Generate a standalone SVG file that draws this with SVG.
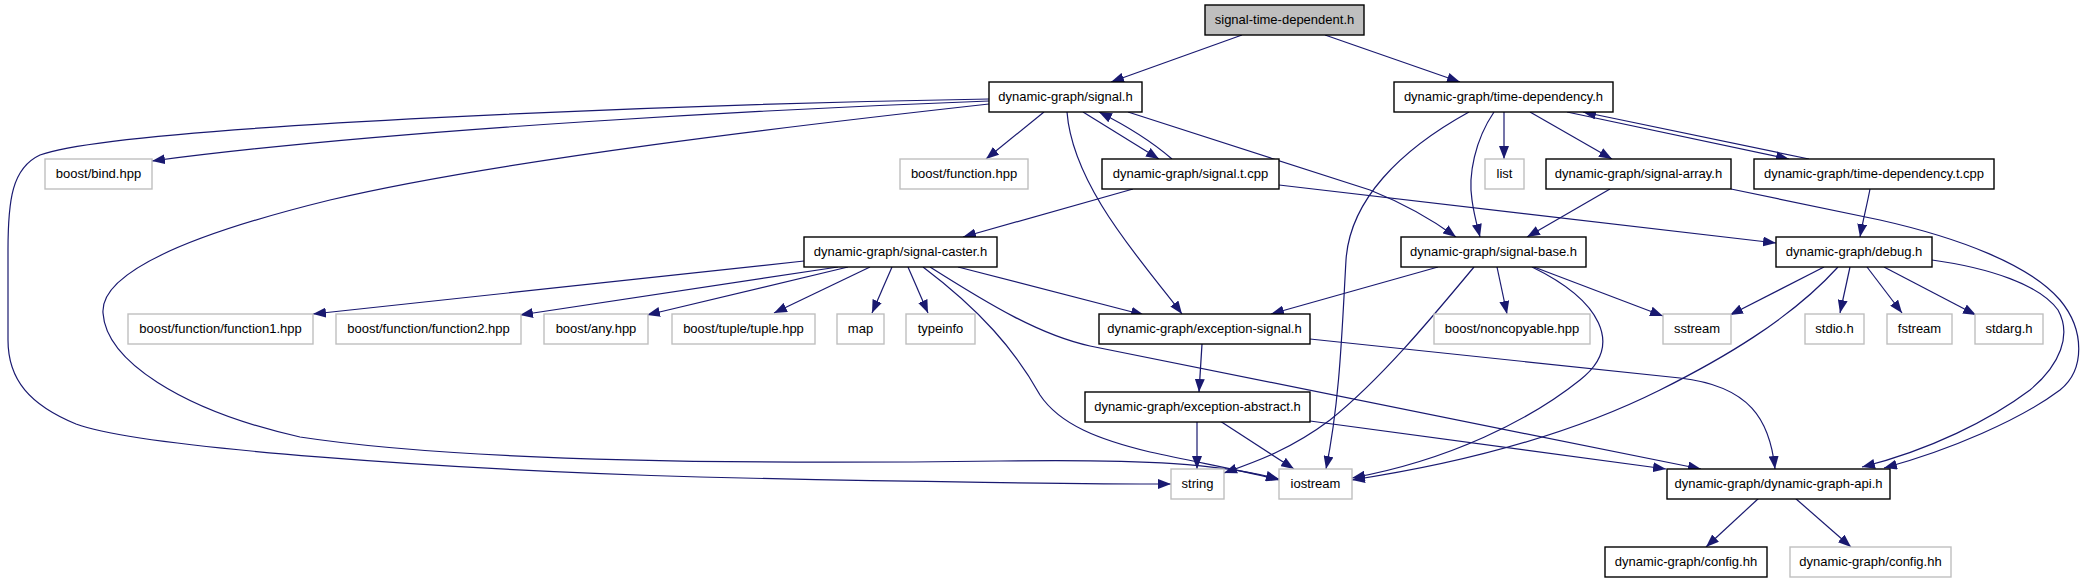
<svg xmlns="http://www.w3.org/2000/svg" width="2081" height="581" viewBox="0 0 2081 581">
<style>
.n rect{fill:#fff;stroke:#000;stroke-width:1.4}
.g rect{fill:#fff;stroke:#bfbfbf;stroke-width:1.4}
.root rect{fill:#bfbfbf;stroke:#000;stroke-width:1.4}
text{font-family:"Liberation Sans",Arial,sans-serif;font-size:13px;fill:#000;text-anchor:middle}
#edges path{fill:none;stroke:#191970;stroke-width:1.2;marker-end:url(#arr)}
</style>
<defs>
<marker id="arr" markerUnits="userSpaceOnUse" viewBox="0 0 13 10" refX="13" refY="5" markerWidth="13" markerHeight="10" orient="auto">
<path d="M0,0 L13,5 L0,10 z" fill="#191970"/>
</marker>
</defs>
<rect width="2081" height="581" fill="#fff"/>
<g id="edges">
<path d="M1242,35 L1111,82"/>
<path d="M1325,35 L1460,82"/>
<path d="M989,101 C800,108 400,128 152,161"/>
<path d="M989,99 C700,104 120,125 40,155 C12,168 8,200 8,250 L8,340 C8,380 30,405 76,424 C140,448 450,470 700,477 C900,482 1100,484 1171,484"/>
<path d="M989,104 C800,125 500,160 330,200 C200,232 100,270 103,313 C106,360 180,410 300,437 C450,460 700,465 1000,461 C1150,459 1220,464 1279,479"/>
<path d="M1044,112 L986,159"/>
<path d="M1083,112 L1159,159"/>
<path d="M1172,159 C1150,140 1125,125 1099,112"/>
<path d="M1128,112 L1370,190 C1400,202 1430,218 1456,237"/>
<path d="M1067,112 C1073,190 1150,270 1182,314"/>
<path d="M1133,189 L963,237"/>
<path d="M1279,185 L1776,243"/>
<path d="M1504,112 L1504,159"/>
<path d="M1530,112 L1612,159"/>
<path d="M1567,112 L1789,159"/>
<path d="M1809,159 L1583,112"/>
<path d="M1469,112 C1400,150 1350,200 1346,260 C1342,330 1340,400 1326,469"/>
<path d="M1494,112 C1475,140 1468,175 1472,200 C1474,215 1477,225 1480,237"/>
<path d="M1610,189 L1527,237"/>
<path d="M1731,189 L1880,220 C1960,238 2030,265 2060,300 C2085,330 2085,370 2060,390 C2020,420 1950,450 1884,468"/>
<path d="M1870,189 C1867,205 1863,220 1860,237"/>
<path d="M804,261 L313,314"/>
<path d="M838,267 L520,315"/>
<path d="M848,267 L647,315"/>
<path d="M870,267 L774,313"/>
<path d="M892,267 L872,313"/>
<path d="M908,267 L928,313"/>
<path d="M958,267 L1144,315"/>
<path d="M923,267 C980,310 1015,350 1040,395 C1060,425 1100,440 1150,452 C1200,463 1250,472 1279,480"/>
<path d="M930,267 C990,305 1040,335 1090,346 L1701,469"/>
<path d="M1438,267 L1271,314"/>
<path d="M1497,267 L1507,314"/>
<path d="M1534,267 L1663,316"/>
<path d="M1474,267 C1430,320 1380,380 1330,420 C1290,450 1255,462 1224,473"/>
<path d="M1532,267 C1600,300 1625,345 1580,380 C1530,420 1450,460 1352,478"/>
<path d="M1824,267 L1730,315"/>
<path d="M1850,267 L1840,313"/>
<path d="M1867,267 L1902,313"/>
<path d="M1884,267 L1976,315"/>
<path d="M1838,267 C1790,320 1720,360 1660,390 C1560,440 1450,465 1352,480"/>
<path d="M1932,260 C1990,268 2040,285 2058,310 C2072,335 2060,365 2030,390 C1990,420 1930,450 1862,467"/>
<path d="M1202,344 L1199,392"/>
<path d="M1310,339 L1680,378 C1750,386 1770,420 1775,469"/>
<path d="M1197,421 L1197,469"/>
<path d="M1220,421 L1294,469"/>
<path d="M1310,421 L1666,469"/>
<path d="M1759,498 L1706,547"/>
<path d="M1795,498 L1851,547"/>
</g>
<g id="n0" class="root"><rect x="1205" y="5" width="159" height="30"/><text x="1284.5" y="23.5">signal-time-dependent.h</text></g>
<g id="n1" class="n"><rect x="989" y="82" width="153" height="30"/><text x="1065.5" y="100.5">dynamic-graph/signal.h</text></g>
<g id="n2" class="n"><rect x="1394" y="82" width="219" height="30"/><text x="1503.5" y="100.5">dynamic-graph/time-dependency.h</text></g>
<g id="n3" class="g"><rect x="45" y="159" width="107" height="30"/><text x="98.5" y="177.5">boost/bind.hpp</text></g>
<g id="n4" class="g"><rect x="900" y="159" width="128" height="30"/><text x="964" y="177.5">boost/function.hpp</text></g>
<g id="n5" class="n"><rect x="1102" y="159" width="177" height="30"/><text x="1190.5" y="177.5">dynamic-graph/signal.t.cpp</text></g>
<g id="n6" class="g"><rect x="1485" y="159" width="39" height="30"/><text x="1504.5" y="177.5">list</text></g>
<g id="n7" class="n"><rect x="1546" y="159" width="185" height="30"/><text x="1638.5" y="177.5">dynamic-graph/signal-array.h</text></g>
<g id="n8" class="n"><rect x="1754" y="159" width="240" height="30"/><text x="1874" y="177.5">dynamic-graph/time-dependency.t.cpp</text></g>
<g id="n9" class="n"><rect x="804" y="237" width="193" height="30"/><text x="900.5" y="255.5">dynamic-graph/signal-caster.h</text></g>
<g id="n10" class="n"><rect x="1401" y="237" width="185" height="30"/><text x="1493.5" y="255.5">dynamic-graph/signal-base.h</text></g>
<g id="n11" class="n"><rect x="1776" y="237" width="156" height="30"/><text x="1854" y="255.5">dynamic-graph/debug.h</text></g>
<g id="n12" class="g"><rect x="128" y="314" width="185" height="30"/><text x="220.5" y="332.5">boost/function/function1.hpp</text></g>
<g id="n13" class="g"><rect x="336" y="314" width="185" height="30"/><text x="428.5" y="332.5">boost/function/function2.hpp</text></g>
<g id="n14" class="g"><rect x="544" y="314" width="104" height="30"/><text x="596" y="332.5">boost/any.hpp</text></g>
<g id="n15" class="g"><rect x="672" y="314" width="143" height="30"/><text x="743.5" y="332.5">boost/tuple/tuple.hpp</text></g>
<g id="n16" class="g"><rect x="837" y="314" width="47" height="30"/><text x="860.5" y="332.5">map</text></g>
<g id="n17" class="g"><rect x="906" y="314" width="69" height="30"/><text x="940.5" y="332.5">typeinfo</text></g>
<g id="n18" class="n"><rect x="1099" y="314" width="211" height="30"/><text x="1204.5" y="332.5">dynamic-graph/exception-signal.h</text></g>
<g id="n19" class="g"><rect x="1434" y="314" width="156" height="30"/><text x="1512" y="332.5">boost/noncopyable.hpp</text></g>
<g id="n20" class="g"><rect x="1663" y="314" width="68" height="30"/><text x="1697" y="332.5">sstream</text></g>
<g id="n21" class="g"><rect x="1805" y="314" width="59" height="30"/><text x="1834.5" y="332.5">stdio.h</text></g>
<g id="n22" class="g"><rect x="1887" y="314" width="65" height="30"/><text x="1919.5" y="332.5">fstream</text></g>
<g id="n23" class="g"><rect x="1975" y="314" width="68" height="30"/><text x="2009" y="332.5">stdarg.h</text></g>
<g id="n24" class="n"><rect x="1085" y="392" width="225" height="30"/><text x="1197.5" y="410.5">dynamic-graph/exception-abstract.h</text></g>
<g id="n25" class="g"><rect x="1171" y="469" width="53" height="30"/><text x="1197.5" y="487.5">string</text></g>
<g id="n26" class="g"><rect x="1279" y="469" width="73" height="30"/><text x="1315.5" y="487.5">iostream</text></g>
<g id="n27" class="n"><rect x="1667" y="469" width="223" height="30"/><text x="1778.5" y="487.5">dynamic-graph/dynamic-graph-api.h</text></g>
<g id="n28" class="n"><rect x="1605" y="547" width="162" height="30"/><text x="1686" y="565.5">dynamic-graph/config.hh</text></g>
<g id="n29" class="g"><rect x="1790" y="547" width="161" height="30"/><text x="1870.5" y="565.5">dynamic-graph/config.hh</text></g>
</svg>
